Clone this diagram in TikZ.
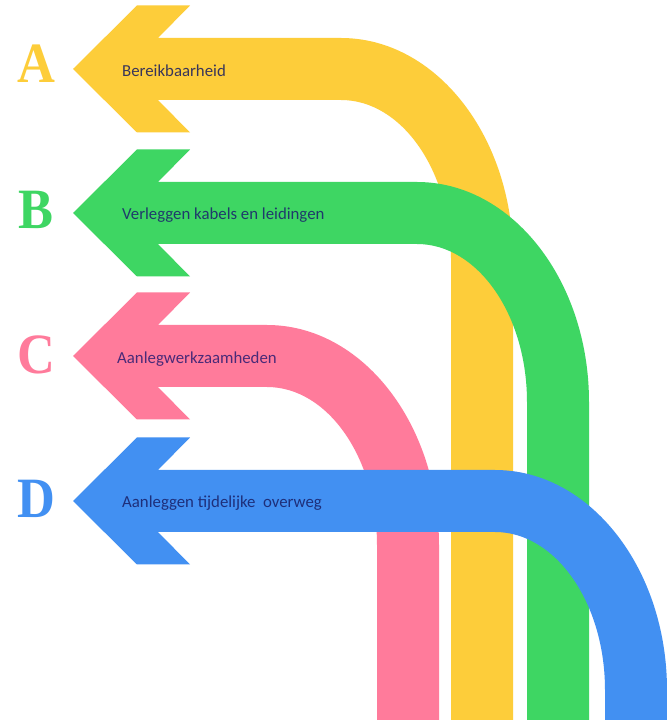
\documentclass[tikz,border=0pt]{standalone}
\usepackage{fontspec}
\setmainfont{Carlito}
\newfontfamily\letterfont[FakeStretch=0.92]{Liberation Serif}
\definecolor{ycol}{HTML}{FDCD3A}
\definecolor{gcol}{HTML}{3ED663}
\definecolor{pcol}{HTML}{FF7B9B}
\definecolor{bcol}{HTML}{4290F2}
\definecolor{tA}{HTML}{38355A}
\definecolor{tB}{HTML}{1F3A6B}
\definecolor{tC}{HTML}{4A2A78}
\definecolor{tD}{HTML}{1E2F7A}
\tikzset{
  lbl/.style={anchor=base west, inner sep=0pt, font=\fontsize{16.8}{18}\selectfont},
  letter/.style={anchor=base, inner sep=0pt, font=\letterfont\bfseries\fontsize{57}{60}\selectfont}
}
% #1 colour, #2 right edge x of the vertical stem, #3 image y of the shaft top
\newcommand{\bentarrow}[3]{%
 \pgfmathsetmacro{\xR}{#2}%
 \pgfmathsetmacro{\xL}{#2-62}%
 \pgfmathsetmacro{\cX}{#2-172}%
 \pgfmathsetmacro{\yT}{721-#3}%
 \pgfmathsetmacro{\yB}{721-#3-62}%
 \pgfmathsetmacro{\yC}{721-#3-31}%
 \pgfmathsetmacro{\hT}{\yC+63.5}%
 \pgfmathsetmacro{\hB}{\yC-63.5}%
 \pgfmathsetmacro{\cY}{721-#3-220}%
 \fill[#1] (73,\yC) -- (137,\hT) -- (190,\hT) -- (158,\yT) -- (\cX,\yT)
   arc[start angle=90,end angle=0,x radius=172pt,y radius=220pt] -- (\xR,1) -- (\xL,1) -- (\xL,\cY)
   arc[start angle=0,end angle=90,x radius=110pt,y radius=158pt] -- (158,\yB) -- (190,\hB) -- (137,\hB) -- cycle;
}
\begin{document}
\begin{tikzpicture}[x=1pt,y=1pt]
\useasboundingbox (0,0) rectangle (667,721);
\fill[white] (0,0) rectangle (667,721);
\bentarrow{ycol}{513}{38}
\bentarrow{gcol}{589}{182}
\bentarrow{pcol}{439}{325}
\bentarrow{bcol}{667}{470}
\node[lbl, text=tA] (labA) at (122,644) {Bereikbaarheid};
\node[lbl, text=tB] (labB) at (122,501) {Verleggen kabels en leidingen};
\node[lbl, text=tC] (labC) at (117,357) {Aanlegwerkzaamheden};
\node[lbl, text=tD] (labD) at (122,213) {Aanleggen tijdelijke\ \ overweg};
\node[letter, text=ycol] (letA) at (36,638) {A};
\node[letter, text=gcol] (letB) at (36,492) {B};
\node[letter, text=pcol] (letC) at (36,347) {C};
\node[letter, text=bcol] (letD) at (36,203) {D};
\end{tikzpicture}
\end{document}
